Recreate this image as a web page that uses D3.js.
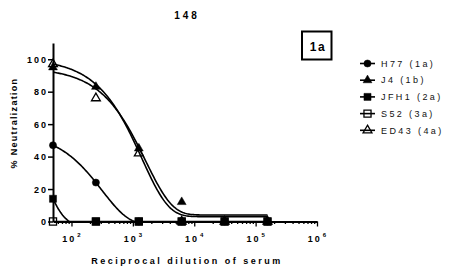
<!DOCTYPE html>
<html><head><meta charset="utf-8">
<script src="https://cdn.jsdelivr.net/npm/d3@7"></script>
<style>
body{margin:0;background:#fff;}
svg{display:block;font-family:"Liberation Sans",Arial,sans-serif;}
</style></head>
<body><svg id="c" width="460" height="271"></svg>
<script>
// ---- data ----
const dilutions = [50, 250, 1250, 6250, 31250, 156250];
const seriesNames = ["H77 (1a)", "J4 (1b)", "JFH1 (2a)", "S52 (3a)", "ED43 (4a)"];
const H77  = [47, 24, 0, 0, 0, 0];
const J4   = [95, 83, 45, 12, 0, 0];
const JFH1 = [14, 0, 0, 0, 0, 0];
const S52  = [0, 0, 0, 0, 0, 0];
const ED43 = [97, 76, 42, 0, 0, 0];
// fitted one-phase decay curves: y = bottom + span * exp(-rate * x)
const fitBottom = [-2, 4, -3, 0, 3];
const fitSpan   = [57.4, 90.8, 134, 0, 97.4];
const fitRate   = [3.17e-3, 6.2e-4, 4.13e-2, 0, 7.12e-4];
const yTicks = [0, 20, 40, 60, 80, 100];
const xMajor = [1e2, 1e3, 1e4, 1e5, 1e6];
const xMajorExp = ["2", "3", "4", "5", "6"];
const title = "148";
const panelLabel = "1a";

const values = [H77, J4, JFH1, S52, ED43];
const symTypes = [d3.symbolCircle, d3.symbolTriangle, d3.symbolSquare, d3.symbolSquare, d3.symbolTriangle];
const symSizes = [40, 34, 50, 50, 34];
const filled = [true, true, true, false, false];

const svg = d3.select("#c");
const x = d3.scaleLog().domain([50, 1e6]).range([53, 317]);
const y = d3.scaleLinear().domain([0, 110]).range([221.5, 43]);

// clip
svg.append("clipPath").attr("id", "clip").append("rect")
  .attr("x", 53).attr("y", 43).attr("width", 264).attr("height", 221.5 - 43);

// curves
const line = d3.line().x(d => x(d[0])).y(d => y(d[1]));
const gCurves = svg.append("g").attr("clip-path", "url(#clip)");
values.forEach((v, i) => {
  const lo = Math.log10(dilutions[0]), hi = Math.log10(dilutions[dilutions.length - 1]);
  const pts = d3.range(0, 201).map(k => {
    const xv = Math.pow(10, lo + (hi - lo) * k / 200);
    return [xv, fitBottom[i] + fitSpan[i] * Math.exp(-fitRate[i] * xv)];
  });
  gCurves.append("path").attr("d", line(pts)).attr("fill", "none")
    .attr("stroke", "#000").attr("stroke-width", 1.6);
});

// axes
const yAxis = svg.append("g").attr("transform", "translate(53,0)")
  .call(d3.axisLeft(y).tickValues(yTicks).tickSize(5).tickSizeOuter(0).tickFormat(d => d));
yAxis.select(".domain").attr("stroke-width", 2);
yAxis.selectAll(".tick line").attr("stroke-width", 1.5);
yAxis.selectAll(".tick text").attr("x", -5).attr("dy", "0.35em")
  .attr("font-size", 9).attr("font-weight", "bold").attr("letter-spacing", 2)
  .attr("font-family", "Liberation Sans, Arial, sans-serif");

const xTicksAll = [];
for (let e = 1; e <= 5; e++) for (let m = 1; m <= 9; m++) {
  const v = m * Math.pow(10, e);
  if (v > 50 && v <= 1e6) xTicksAll.push(v);
}
xTicksAll.push(1e6);
const xAxis = svg.append("g").attr("transform", "translate(0,221.5)")
  .call(d3.axisBottom(x).tickValues(xTicksAll).tickSize(2.5).tickSizeOuter(0).tickFormat(""));
xAxis.select(".domain").attr("stroke-width", 2);
xAxis.selectAll(".tick line").attr("stroke-width", 1.3)
  .attr("y2", d => xMajor.includes(d) ? 5 : 2.5);
xMajor.forEach((v, i) => {
  const t = svg.append("text").attr("x", x(v) + 1).attr("y", 242)
    .attr("text-anchor", "middle").attr("font-size", 9).attr("font-weight", "bold")
    .attr("letter-spacing", 2);
  t.append("tspan").text("10");
  t.append("tspan").attr("dy", -5).attr("font-size", 6).attr("dx", 1).text(xMajorExp[i]);
});

// points
values.forEach((v, i) => {
  const sym = d3.symbol().type(symTypes[i]).size(symSizes[i]);
  svg.append("g").selectAll("path").data(dilutions.map((d, j) => [d, v[j]]))
    .join("path")
    .attr("transform", d => `translate(${x(d[0])},${y(d[1])})`)
    .attr("d", sym)
    .attr("fill", filled[i] ? "#000" : "none")
    .attr("stroke", "#000").attr("stroke-width", filled[i] ? 0.5 : 1.3);
});

// titles
svg.append("text").attr("x", 187).attr("y", 19).attr("text-anchor", "middle")
  .attr("font-size", 10).attr("font-weight", "bold").attr("letter-spacing", 3).text(title);
svg.append("text").attr("transform", "translate(17,123) rotate(-90)")
  .attr("text-anchor", "middle").attr("font-size", 9).attr("font-weight", "bold")
  .attr("letter-spacing", 1.3).text("% Neutralization");
svg.append("text").attr("x", 187).attr("y", 264).attr("text-anchor", "middle")
  .attr("font-size", 9).attr("font-weight", "bold").attr("letter-spacing", 2.5)
  .text("Reciprocal dilution of serum");

// panel label box
svg.append("rect").attr("x", 302).attr("y", 31.5).attr("width", 29.5).attr("height", 28)
  .attr("fill", "none").attr("stroke", "#000").attr("stroke-width", 2);
svg.append("text").attr("x", 318).attr("y", 50.5).attr("text-anchor", "middle")
  .attr("font-size", 12).attr("font-weight", "bold").attr("letter-spacing", 1.5).text(panelLabel);

// legend
seriesNames.forEach((n, i) => {
  const ly = 63.5 + i * 16.7;
  svg.append("line").attr("x1", 360).attr("x2", 375).attr("y1", ly).attr("y2", ly)
    .attr("stroke", "#000").attr("stroke-width", 1.6);
  svg.append("path").attr("transform", `translate(367.5,${ly})`)
    .attr("d", d3.symbol().type(symTypes[i]).size(symSizes[i]))
    .attr("fill", filled[i] ? "#000" : "none").attr("stroke", "#000")
    .attr("stroke-width", filled[i] ? 0.5 : 1.3);
  svg.append("text").attr("x", 381).attr("y", ly + 3.2).attr("font-size", 9)
    .attr("letter-spacing", 2.4).attr("fill", "#111").text(n);
});
</script></body></html>
